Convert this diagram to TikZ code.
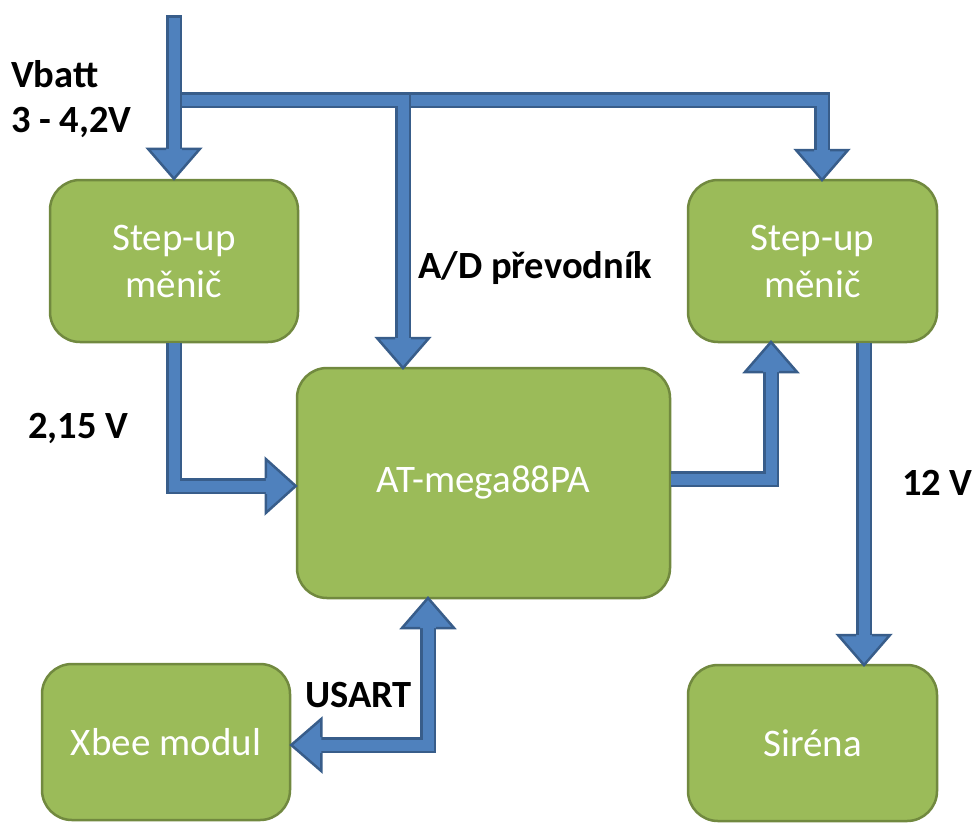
\documentclass[tikz,border=0pt]{standalone}
\usepackage{fontspec}
\setmainfont{Carlito}
\usetikzlibrary{calc}
\definecolor{gfill}{HTML}{9BBB59}
\definecolor{gline}{HTML}{71893F}
\definecolor{bfill}{HTML}{4F81BD}
\definecolor{bline}{HTML}{385D8A}
\newcommand{\headD}[1]{\filldraw[head] ($(#1)+(-8,-30)$) -- ($(#1)+(-26,-30)$) -- (#1) -- ($(#1)+(26,-30)$) -- ($(#1)+(8,-30)$);}
\newcommand{\headU}[1]{\filldraw[head] ($(#1)+(-8,30)$) -- ($(#1)+(-26,30)$) -- (#1) -- ($(#1)+(26,30)$) -- ($(#1)+(8,30)$);}
\newcommand{\headR}[1]{\filldraw[head] ($(#1)+(-30,-8)$) -- ($(#1)+(-30,-27)$) -- (#1) -- ($(#1)+(-30,27)$) -- ($(#1)+(-30,8)$);}
\newcommand{\headL}[1]{\filldraw[head] ($(#1)+(30,-8)$) -- ($(#1)+(30,-26)$) -- (#1) -- ($(#1)+(30,26)$) -- ($(#1)+(30,8)$);}
\begin{document}
\begin{tikzpicture}[x=1pt,y=-1pt,
 box/.style={draw=gline, fill=gfill, line width=2.5pt, rounded corners=30pt, text=white, align=center, font=\fontsize{39}{47}\selectfont, inner sep=0pt},
 lbl/.style={font=\bfseries\fontsize{38.5}{46}\selectfont, anchor=base west, inner sep=0pt},
 pipe/.style={draw=bline, double=bfill, line width=2.5pt, double distance=11pt, line join=miter},
 head/.style={draw=bline, fill=bfill, line width=2.5pt, line join=miter}]
\useasboundingbox (0,0) rectangle (973,822);

% boxes
\node[box, minimum width=248pt, minimum height=162pt] (ls) at (174,261) {Step-up\\měnič};
\node[box, minimum width=249pt, minimum height=162pt] (rs) at (812.5,261) {Step-up\\měnič};
\node[box, minimum width=373pt, minimum height=230pt] (at) at (483.5,483) {AT-mega88PA};
\node[box, minimum width=248pt, minimum height=156pt] (xb) at (166,742) {Xbee modul};
\node[box, minimum width=249pt, minimum height=156pt] (si) at (812.5,743) {Siréna};

% coordinates
\coordinate (top) at (174,15);
\coordinate (t1) at (ls.north);
\coordinate (t2) at (822,180);
\coordinate (t3) at (403,368);
\coordinate (t4) at (at.west |- 0,486);
\coordinate (t5) at (771,342);
\coordinate (t6) at (864,665);
\coordinate (t7) at (428,598);
\coordinate (t8) at (xb.east |- 0,745);

% pipes
\draw[pipe] (top) -- ($(t1)+(0,-30)$);
\draw[bline, line width=2.5pt] (166,16.25) -- (182,16.25);
\draw[pipe] (182,100) -- (t3 |- 0,100) -- ($(t3)+(0,-30)$);
\draw[pipe] (411,100) -- (t2 |- 0,100) -- ($(t2)+(0,-30)$);
\draw[pipe] (ls.south) -- (ls.south |- t4) -- ($(t4)+(-30,0)$);
\draw[pipe] (at.east |- 0,479) -- (t5 |- 0,479) -- ($(t5)+(0,30)$);
\draw[pipe] (t6 |- rs.south) -- ($(t6)+(0,-30)$);
\draw[pipe] ($(t7)+(0,30)$) -- (t7 |- t8) -- ($(t8)+(30,0)$);

% heads
\headD{t1}
\headD{t2}
\headD{t3}
\headR{t4}
\headU{t5}
\headD{t6}
\headU{t7}
\headL{t8}

% labels
\node[lbl] (l1) at (11,87) {Vbatt};
\node[lbl] (l2) at (11,132) {3 - 4,2V};
\node[lbl] (l3) at (418,278) {A/D převodník};
\node[lbl] (l4) at (28,438) {2,15 V};
\node[lbl] (l5) at (902,495) {12 V};
\node[lbl] (l6) at (305,707) {USART};
\end{tikzpicture}
\end{document}
